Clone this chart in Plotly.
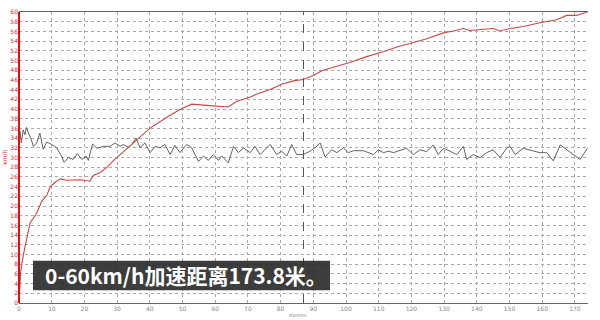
import plotly.graph_objects as go

# Speed (km/h) vs distance (metres) - red trace
dist_speed = [0, 0.5, 1.3, 2.3, 3.4, 5.4, 6.9, 8.5, 9.5, 11, 12.7, 14.6, 17.6, 18.6, 21.7,
              22.7, 24.8, 26.8, 28.8, 32, 35, 37, 40, 45.2, 49.2, 52.8, 55.4, 58.4, 64,
              66.6, 70.6, 72.7, 76.8, 80.3, 83.9, 86.9, 90, 92.6, 97.2, 101.2, 106.3,
              111.4, 116.5, 119.6, 124.7, 126.7, 129.8, 132.8, 135.9, 137.9, 142, 145,
              147.1, 150.2, 154.2, 159.3, 164.4, 167.5, 170.5, 173.8]
speed = [0, 6.4, 9.8, 13.1, 16.5, 18.5, 20.9, 22.2, 23.9, 24.9, 25.6, 25.3, 25.3, 25.4, 25.1,
         26.3, 26.9, 27.9, 29.3, 31.2, 33.0, 34.3, 36.0, 38.3, 39.9, 41.0, 40.8, 40.7, 40.4,
         41.6, 42.4, 43.1, 44.0, 45.1, 45.8, 46.1, 46.9, 47.9, 48.8, 49.6, 50.8,
         51.8, 53.0, 53.5, 54.5, 55.0, 55.7, 56.1, 56.6, 56.2, 56.4, 56.6,
         56.1, 56.6, 57.0, 57.8, 58.4, 59.3, 59.3, 60.0]

# Second (grey) noisy trace
dist_grey = [0, 0.3, 0.7, 1.3, 1.8, 2.3, 2.9, 3.6, 4.4, 5.4, 6.4, 7.4, 8.5, 10.0, 11.5, 13.0,
             13.8, 15.1, 16.6, 17.8, 19.2, 20.5, 21.2, 22.5, 23.8, 25.8, 27.8, 29.4, 30.9,
             31.9, 33.4, 34.5, 35.8, 37.0, 38.5, 40.1, 41.6, 43.1, 44.6, 46.2, 47.7, 49.2,
             51.3, 52.8, 54.9, 56.4, 57.9, 59.4, 61.0, 62.0, 64.0, 65.6, 67.1, 68.6, 70.7,
             72.2, 73.7, 75.7, 76.8, 78.8, 80.3, 81.9, 83.4, 84.9, 86.9, 89.0, 90.5, 92.1,
             93.6, 95.6, 97.2, 99.2, 100.7, 102.3, 105.3, 108.4, 109.9, 111.4, 113.0, 114.5,
             116.5, 118.5, 120.6, 122.6, 124.7, 126.7, 128.2, 129.8, 131.8, 133.9, 135.9,
             136.9, 138.9, 141.0, 143.0, 145.0, 147.1, 149.1, 150.2, 151.7, 154.2, 157.3,
             159.3, 161.4, 163.4, 165.5, 167.5, 169.5, 171.6, 173.8]
grey = [32.0, 35.4, 33.0, 35.7, 34.7, 36.2, 35.0, 34.0, 32.3, 33.0, 35.0, 31.7, 33.2, 32.7, 32.0, 30.3,
        29.0, 30.0, 29.6, 30.8, 29.6, 30.3, 29.4, 32.8, 31.9, 32.3, 32.3, 33.0, 32.3,
        32.7, 32.1, 32.7, 34.0, 32.0, 33.0, 31.0, 32.3, 32.0, 32.7, 30.6, 32.5, 31.0,
        32.7, 32.0, 29.2, 30.3, 29.4, 30.6, 29.4, 30.3, 28.9, 32.3, 31.0, 32.0, 31.0,
        32.3, 30.6, 32.0, 32.7, 30.6, 31.3, 30.3, 32.7, 30.6, 30.6, 31.3, 32.0, 33.0,
        30.1, 31.6, 31.0, 32.0, 31.0, 31.4, 31.4, 30.6, 31.6, 31.0, 31.3, 31.0,
        31.4, 31.9, 30.6, 31.6, 31.2, 32.6, 30.6, 31.9, 31.3, 30.6, 32.3,
        29.6, 30.6, 30.0, 31.0, 31.6, 30.0, 31.9, 32.3, 30.6, 31.9, 31.4,
        31.0, 31.0, 29.3, 32.6, 31.6, 30.6, 29.6, 31.9]

x_ticks = list(range(0, 171, 10))
y_ticks = list(range(0, 61, 2))
cursor_x = 87
caption = "0-60km/h加速距离173.8米。"

fig = go.Figure()
fig.add_trace(go.Scatter(x=dist_grey, y=grey, mode="lines",
                         line=dict(color="#626262", width=1), showlegend=False))
fig.add_trace(go.Scatter(x=dist_speed, y=speed, mode="lines",
                         line=dict(color="#c84848", width=1.1), showlegend=False))

fig.add_vline(x=cursor_x, line=dict(color="#555555", width=1, dash="dash"))

# caption box
fig.add_shape(type="rect", xref="paper", yref="paper",
              x0=0.0246, x1=0.5466, y0=0.044, y1=0.145,
              fillcolor="rgba(45,45,45,0.92)", line=dict(width=0))
fig.add_annotation(xref="paper", yref="paper", x=0.043, y=0.095,
                   xanchor="left", yanchor="middle", showarrow=False,
                   text="<b>" + caption + "</b>",
                   font=dict(family="Noto Sans CJK SC", size=21, color="white"))
# y title
fig.add_annotation(xref="paper", yref="paper", x=-0.026, y=0.5,
                   xanchor="center", yanchor="middle", showarrow=False,
                   text="km/h", textangle=-90,
                   font=dict(family="DejaVu Sans", size=6, color="#d03030"))
# x title
fig.add_annotation(xref="paper", yref="paper", x=0.49, y=-0.041,
                   xanchor="center", yanchor="middle", showarrow=False,
                   text="metres",
                   font=dict(family="DejaVu Sans", size=5, color="#888888"))

fig.update_layout(
    width=600, height=320,
    margin=dict(l=19, r=12, t=8, b=15),
    paper_bgcolor="white", plot_bgcolor="white",
    xaxis=dict(range=[0, 174], tickvals=x_ticks, ticktext=[str(v) for v in x_ticks],
               showgrid=True, gridcolor="#aaaaaa", griddash="dot", gridwidth=1,
               zeroline=False, showline=True, linecolor="#666666", linewidth=1, mirror=True,
               ticks="", tickfont=dict(family="DejaVu Sans", size=6, color="#888888")),
    yaxis=dict(range=[0, 60], tickvals=y_ticks, ticktext=[str(v) for v in y_ticks],
               showgrid=True, gridcolor="#aaaaaa", griddash="dot", gridwidth=1,
               zeroline=False, showline=False,
               ticks="", tickfont=dict(family="DejaVu Sans", size=6, color="#d03030")),
)
# red left axis line
fig.add_shape(type="line", xref="paper", yref="paper", x0=0, x1=0, y0=0, y1=1,
              line=dict(color="#e01010", width=2))

fig.write_html("out.html")
